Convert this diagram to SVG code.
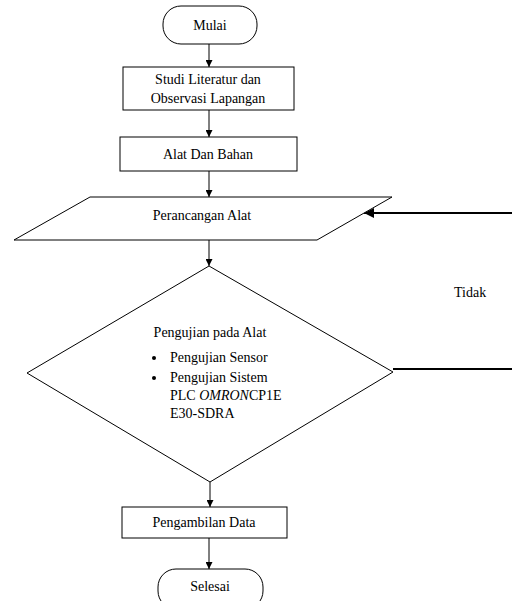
<svg xmlns="http://www.w3.org/2000/svg" width="512" height="601" viewBox="0 0 512 601">
<style>
.s{fill:#fff;stroke:#000;stroke-width:1}
.t{font-family:'Liberation Serif','Times New Roman',serif;font-size:14px;fill:#000}
.c{stroke:#000;stroke-width:1;fill:none}
.f{stroke:#000;stroke-width:2;fill:none}
</style>
<defs>
<marker id="a" viewBox="0 0 10 10" refX="10" refY="5" markerWidth="7" markerHeight="7" markerUnits="userSpaceOnUse" orient="auto">
<path d="M0,0 L10,5 L0,10 z" fill="#000"/>
</marker>
<marker id="b" viewBox="0 0 10 10" refX="10" refY="5" markerWidth="5" markerHeight="5" orient="auto">
<path d="M0,0 L10,5 L0,10 z" fill="#000"/>
</marker>
</defs>
<rect width="512" height="601" fill="#fff"/>
<g id="connectors">
<line class="c" x1="209" y1="44" x2="209" y2="67" marker-end="url(#a)"/>
<line class="c" x1="209" y1="110" x2="209" y2="137" marker-end="url(#a)"/>
<line class="c" x1="209" y1="171" x2="209" y2="197" marker-end="url(#a)"/>
<line class="c" x1="209" y1="240" x2="209" y2="266" marker-end="url(#a)"/>
<line class="c" x1="210" y1="482" x2="210" y2="507" marker-end="url(#a)"/>
<line class="c" x1="209" y1="538" x2="209" y2="569" marker-end="url(#a)"/>
<line class="f" x1="512" y1="213" x2="364" y2="213" marker-end="url(#b)"/>
<line class="f" x1="393" y1="369" x2="512" y2="369"/>
<text class="t" x="454" y="297">Tidak</text>
</g>
<g id="mulai">
<rect class="s" x="163" y="6" width="94" height="38" rx="18"/>
<text class="t" x="210" y="30" text-anchor="middle">Mulai</text>
</g>
<g id="studi">
<rect class="s" x="123" y="67" width="171" height="43"/>
<text class="t" x="208" y="84" text-anchor="middle">Studi Literatur dan</text>
<text class="t" x="208" y="103" text-anchor="middle">Observasi Lapangan</text>
</g>
<g id="alat">
<rect class="s" x="120" y="137" width="177" height="34"/>
<text class="t" x="208" y="159" text-anchor="middle">Alat Dan Bahan</text>
</g>
<g id="perancangan">
<polygon class="s" points="90,197 392,197 317,240 14,240"/>
<text class="t" x="202" y="220" text-anchor="middle">Perancangan Alat</text>
</g>
<g id="pengujian">
<polygon class="s" points="209,266 393,372 210,482 27,373"/>
<text class="t" x="210" y="337" text-anchor="middle">Pengujian pada Alat</text>
<circle cx="154" cy="358" r="2" fill="#000"/>
<text class="t" x="170" y="362">Pengujian Sensor</text>
<circle cx="154" cy="378" r="2" fill="#000"/>
<text class="t" x="170" y="382">Pengujian Sistem</text>
<text class="t" x="170" y="400">PLC <tspan font-style="italic">OMRON</tspan>CP1E</text>
<text class="t" x="170" y="418">E30-SDRA</text>
</g>
<g id="pengambilan">
<rect class="s" x="122" y="507" width="165" height="31"/>
<text class="t" x="204" y="527" text-anchor="middle">Pengambilan Data</text>
</g>
<g id="selesai">
<rect class="s" x="158" y="569" width="105" height="40" rx="18"/>
<text class="t" x="210" y="591" text-anchor="middle">Selesai</text>
</g>
</svg>
